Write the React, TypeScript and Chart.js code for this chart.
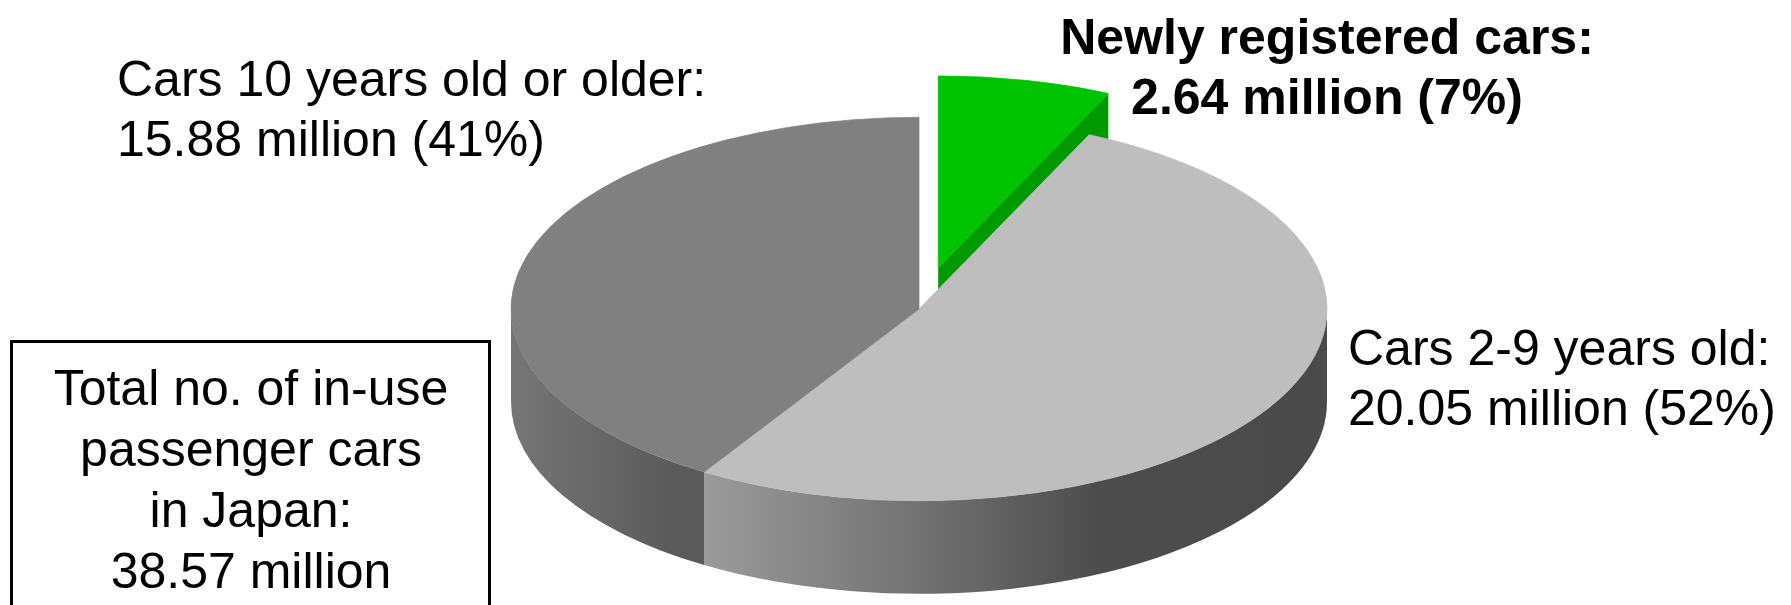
import React, { useEffect, useRef } from "react";
import { Chart, registerables } from "chart.js";

Chart.register(...registerables);

// ---------------- data ----------------
const categories = ["Newly registered cars", "Cars 2-9 years old", "Cars 10 years old or older"];
const valuesMillion = [2.64, 20.05, 15.88];
const totalCaption = ["Total no. of in-use", "passenger cars", "in Japan:"];
const unitLabel = "million";

// ---------------- styles ----------------
const topColors = ["#00c400", "#bebebe", "#808080"];
const cutFaceColors = ["#009a00", "#8a8a8a", "#6a6a6a"];
const wallStops: [number, string][][] = [
  [[0, "#00a000"], [1, "#007000"]],
  [[0.2, "#a0a0a0"], [0.5, "#727272"], [0.72, "#4c4c4c"], [1, "#4a4a4a"]],
  [[0, "#767676"], [0.2, "#5a5a5a"]],
];
const explodePx = [90, 0, 0];
const labelBold = [true, false, false];
const labelAnchor = [
  { x: 1327, y: 54, align: "center" },
  { x: 1348, y: 365, align: "left" },
  { x: 117, y: 96, align: "left" },
];
const TILT = 0.47;
const DEPTH = 93;
const FONT = '"Liberation Sans", Arial, Helvetica, sans-serif';
const FONT_SIZE = 50;
const LINE_GAP = 60;

const total = valuesMillion.reduce((a, b) => a + b, 0);

const pie3d = {
  id: "pie3d",
  afterDatasetsUpdate(chart: any) {
    const meta = chart.getDatasetMeta(0);
    meta.data.forEach((el: any, i: number) => {
      const d = explodePx[i] || 0;
      if (!d) return;
      const mid = (el.startAngle + el.endAngle) / 2;
      el.x += Math.cos(mid) * d;
      el.y += Math.sin(mid) * d;
    });
  },
  beforeDatasetsDraw(chart: any) {
    const ctx: CanvasRenderingContext2D = chart.ctx;
    const cy = (chart.chartArea.top + chart.chartArea.bottom) / 2;
    const meta = chart.getDatasetMeta(0);
    const P = (x: number, y: number) => [x, cy + (y - cy) * TILT];

    // radial cut faces of exploded slices
    meta.data.forEach((el: any, i: number) => {
      if (!explodePx[i]) return;
      const r = el.outerRadius;
      const faces: number[] = [];
      if (Math.cos(el.endAngle) > 0.001) faces.push(el.endAngle);
      if (Math.cos(el.startAngle) < -0.001) faces.push(el.startAngle);
      faces.forEach((a) => {
        const [x0, y0] = P(el.x, el.y);
        const [x1, y1] = P(el.x + r * Math.cos(a), el.y + r * Math.sin(a));
        ctx.beginPath();
        ctx.moveTo(x0, y0);
        ctx.lineTo(x1, y1);
        ctx.lineTo(x1, y1 + DEPTH);
        ctx.lineTo(x0, y0 + DEPTH);
        ctx.closePath();
        ctx.fillStyle = cutFaceColors[i];
        ctx.fill();
      });
    });

    // outer walls (front half only)
    meta.data.forEach((el: any, i: number) => {
      const r = el.outerRadius;
      const a0 = Math.max(el.startAngle, 0);
      const a1 = Math.min(el.endAngle, Math.PI);
      if (a1 <= a0) return;
      const [px, py] = P(el.x, el.y);
      const g = ctx.createLinearGradient(px - r, 0, px + r, 0);
      wallStops[i].forEach(([o, c]) => g.addColorStop(o, c));
      ctx.beginPath();
      ctx.ellipse(px, py, r, r * TILT, 0, a0, a1, false);
      ctx.ellipse(px, py + DEPTH, r, r * TILT, 0, a1, a0, true);
      ctx.closePath();
      ctx.fillStyle = g;
      ctx.fill();
    });

    ctx.save();
    ctx.translate(0, cy);
    ctx.scale(1, TILT);
    ctx.translate(0, -cy);
  },
  afterDatasetsDraw(chart: any) {
    chart.ctx.restore();
  },
  afterDraw(chart: any) {
    const ctx: CanvasRenderingContext2D = chart.ctx;
    ctx.save();
    ctx.fillStyle = "#000";
    ctx.textBaseline = "alphabetic";
    categories.forEach((cat, i) => {
      const a = labelAnchor[i];
      ctx.font = `${labelBold[i] ? "bold " : ""}${FONT_SIZE}px ${FONT}`;
      ctx.textAlign = a.align as CanvasTextAlign;
      const pct = Math.round((valuesMillion[i] / total) * 100);
      const lines = [cat + ":", `${valuesMillion[i].toFixed(2)} ${unitLabel} (${pct}%)`];
      lines.forEach((t, k) => ctx.fillText(t, a.x, a.y + k * LINE_GAP));
    });

    // total box
    ctx.lineWidth = 3;
    ctx.strokeStyle = "#000";
    ctx.strokeRect(11.5, 341.5, 478, 300);
    ctx.font = `${FONT_SIZE}px ${FONT}`;
    ctx.textAlign = "center";
    const boxLines = [...totalCaption, `${total.toFixed(2)} ${unitLabel}`];
    boxLines.forEach((t, k) => ctx.fillText(t, 251, 405 + k * 61));
    ctx.restore();
  },
};

export default function App() {
  const ref = useRef<HTMLCanvasElement | null>(null);
  useEffect(() => {
    document.body.style.margin = "0";
    const canvas = ref.current;
    if (!canvas) return;
    const chart = new Chart(canvas, {
      type: "pie",
      data: {
        labels: categories,
        datasets: [
          {
            data: valuesMillion,
            backgroundColor: topColors,
            borderColor: topColors,
            borderWidth: 1,
            radius: 408,
            clip: false,
          } as any,
        ],
      },
      options: {
        responsive: false,
        maintainAspectRatio: false,
        devicePixelRatio: 1,
        animation: false,
        events: [],
        layout: { padding: { left: 47, right: 0, top: 13, bottom: 0 } },
        plugins: {
          legend: { display: false },
          tooltip: { enabled: false },
        },
      },
      plugins: [pie3d],
    } as any);
    return () => chart.destroy();
  }, []);
  return (
    <div style={{ width: 1791, height: 605, background: "#fff" }}>
      <canvas ref={ref} width={1791} height={605} style={{ display: "block" }} />
    </div>
  );
}
